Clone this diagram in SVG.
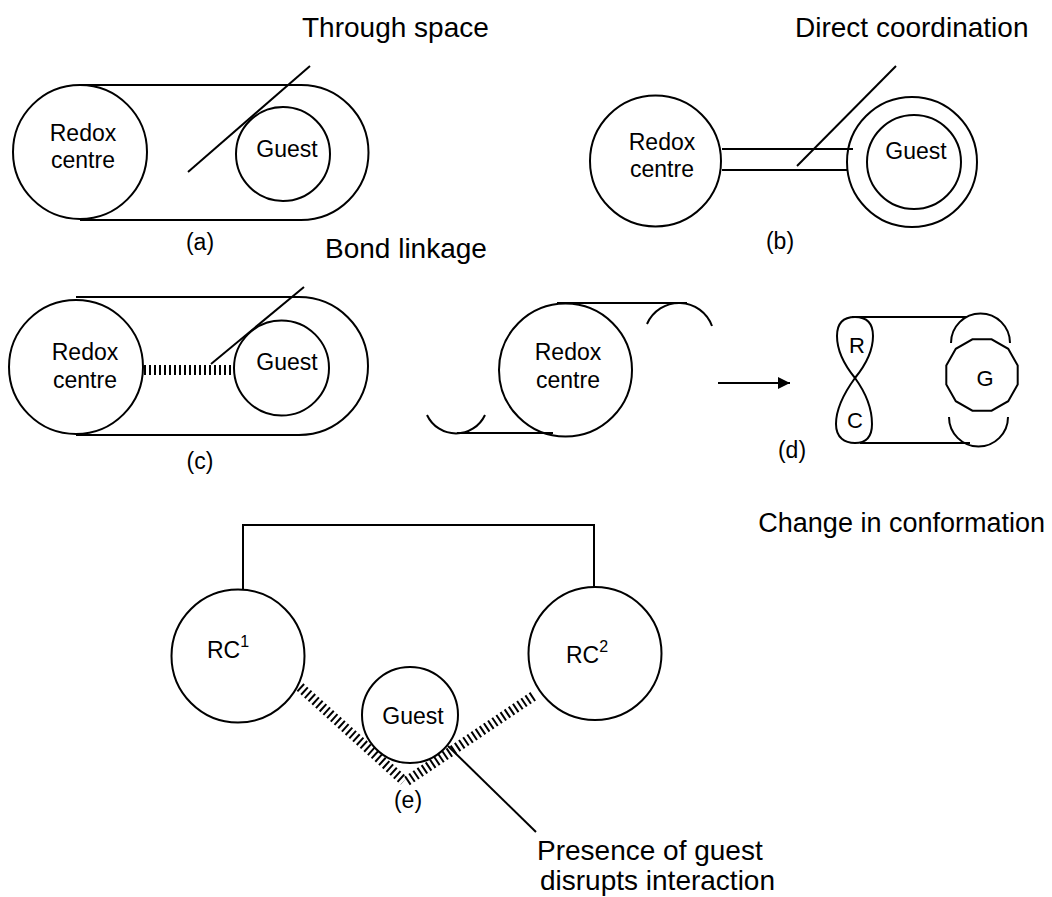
<svg xmlns="http://www.w3.org/2000/svg" width="1052" height="897" viewBox="0 0 1052 897">
<style>
.s{fill:none;stroke:#000;stroke-width:2}
.h{fill:none;stroke:#000;stroke-width:10;stroke-dasharray:2 3}
.t{font-family:"Liberation Sans",Arial,sans-serif;font-size:23px;fill:#000;text-anchor:middle}
.l{font-family:"Liberation Sans",Arial,sans-serif;font-size:28px;fill:#000}
</style>
<defs>
<marker id="ah" viewBox="0 0 10 10" refX="10" refY="5" markerWidth="20" markerHeight="12" markerUnits="userSpaceOnUse" orient="auto">
<path d="M0,0 L10,5 L0,10 Z" fill="#000"/>
</marker>
</defs>
<rect width="1052" height="897" fill="#fff"/>

<!-- (a) Through space -->
<g id="a">
<path class="s" d="M80,85 H301 A67.5,67.5 0 0 1 301,220 H80"/>
<g id="a-redox"><circle class="s" cx="80" cy="152" r="67"/>
<text class="t" x="83" y="141">Redox</text><text class="t" x="83" y="168">centre</text></g>
<g id="a-guest"><circle class="s" cx="283" cy="154" r="47"/>
<text class="t" x="287" y="157">Guest</text></g>
<text class="t" x="200" y="250">(a)</text>
<text class="l" x="302" y="37">Through space</text>
</g>

<!-- (b) Direct coordination -->
<g id="b">
<g id="b-redox"><circle class="s" cx="655.5" cy="161" r="65.5"/>
<text class="t" x="662" y="150">Redox</text><text class="t" x="662" y="177">centre</text></g>
<g id="b-guest"><circle class="s" cx="912" cy="162" r="65"/><circle class="s" cx="914" cy="162" r="47"/>
<text class="t" x="916" y="159">Guest</text></g>
<text class="t" x="780" y="249">(b)</text>
<text class="l" x="795" y="37">Direct coordination</text>
</g>

<!-- (c) Bond linkage -->
<g id="c">
<path class="s" d="M76,297 H299 A69,69 0 0 1 299,435 H76"/>
<g id="c-redox"><circle class="s" cx="76" cy="367" r="67"/>
<text class="t" x="85" y="360">Redox</text><text class="t" x="85" y="388">centre</text></g>
<g id="c-guest"><circle class="s" cx="281.5" cy="368" r="47.5"/>
<text class="t" x="287" y="370">Guest</text></g>
<text class="t" x="200" y="469">(c)</text>
<text class="l" x="325" y="258">Bond linkage</text>
</g>

<!-- (d) Change in conformation -->
<g id="d">
<g id="d-redox"><circle class="s" cx="565.5" cy="370" r="66.5"/>
<text class="t" x="568" y="360">Redox</text><text class="t" x="568" y="388">centre</text></g>
<path class="s" d="M557,303 H687"/>
<path class="s" d="M647,324 A35,35 0 0 1 712,326"/>
<path class="s" d="M457,433 H553"/>
<path class="s" d="M427,415 A32,32 0 0 0 485,415"/>
<g id="d-R"><path class="s" d="M855,378 C846,367 837,352 837,336 C837,322 845,317 855,317 C866,317 873,322 873,336 C873,352 864,367 855,378 Z"/>
<text class="t" x="857" y="353" style="font-size:22px">R</text></g>
<g id="d-C"><path class="s" d="M855,378 C847,389 836,406 836,424 C836,438 845,443 855,443 C865,443 872,438 872,424 C872,406 863,389 855,378 Z"/>
<text class="t" x="855" y="428" style="font-size:22px">C</text></g>
<path class="s" d="M852,317 H967"/>
<path class="s" d="M860,443 H970"/>
<g id="d-G"><polygon class="s" points="1017.7,365.4 1008.2,348.8 991.6,339.3 972.4,339.3 955.8,348.8 946.3,365.4 946.3,384.6 955.8,401.2 972.4,410.7 991.6,410.7 1008.2,401.2 1017.7,384.6"/>
<text class="t" x="985" y="386" style="font-size:22px">G</text></g>
<path class="s" d="M951,343 A29.5,29.5 0 0 1 1010,343"/>
<path class="s" d="M949,417 A29.5,29.5 0 0 0 1008,417"/>
<text class="t" x="792" y="458">(d)</text>
<text class="l" x="1045" y="532" style="text-anchor:end;font-size:27px">Change in conformation</text>
</g>

<!-- (e) -->
<g id="e">
<g id="e-rc1"><circle class="s" cx="238" cy="656" r="66.5"/>
<text class="t" x="228" y="658">RC<tspan dy="-11" style="font-size:16px">1</tspan></text></g>
<g id="e-rc2"><circle class="s" cx="595" cy="653.5" r="66.5"/>
<text class="t" x="587" y="663">RC<tspan dy="-11" style="font-size:16px">2</tspan></text></g>
<g id="e-guest"><circle class="s" cx="410" cy="715" r="48"/>
<text class="t" x="413" y="724">Guest</text></g>
<text class="t" x="408" y="808">(e)</text>
<text class="l" x="537" y="860">Presence of guest</text>
<text class="l" x="540" y="890">disrupts interaction</text>
</g>

<g id="connectors">
<path class="s" d="M188,172 L310,66"/>
<path class="s" d="M722,149 H853 M722,170 H847"/>
<path class="s" d="M797,166 L896,66"/>
<path class="h" d="M144,370 H233"/>
<path class="s" d="M211,364 L304,287"/>
<path class="s" d="M718,383 H790" marker-end="url(#ah)"/>
<path class="s" d="M243,589 V525 H594 V587"/>
<path class="h" d="M300,687 L404,781"/>
<path class="h" d="M407,781 L535,695"/>
<path class="s" d="M448,746 L536,832"/>
</g>
</svg>
